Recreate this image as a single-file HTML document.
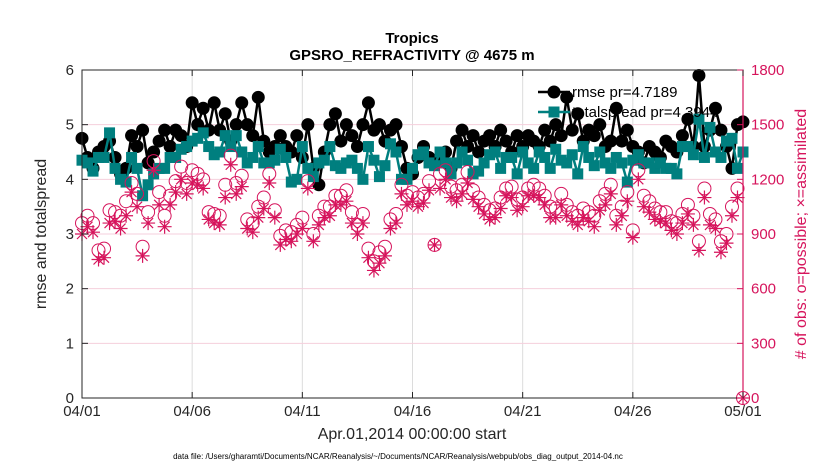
<!DOCTYPE html>
<html><head><meta charset="utf-8"><style>
body{margin:0;background:#fff;width:830px;height:470px;overflow:hidden;font-family:"Liberation Sans",Arial,sans-serif}
svg text{font-family:"Liberation Sans",Arial,sans-serif}
</style></head><body>
<svg id="chart" width="830" height="470" xmlns="http://www.w3.org/2000/svg"></svg>
<script>
const rmse=[4.75,4.4,4.2,4.5, 4.6,4.7,4.4,4.1, 4.2,4.8,4.6,4.9, 4.3,4.5,4.7,4.9, 4.6,4.9,4.8,4.6, 5.4,5.0,5.3,4.9, 5.4,4.9,5.2,4.7, 5.0,5.4,5.0,4.8, 5.5,4.7,4.5,4.6, 4.8,4.6,4.5,4.8, 4.4,5.0,4.2,3.9, 4.5,5.0,5.2,4.7, 5.0,4.8,4.6,5.0, 5.4,4.9,5.0,4.7, 4.9,5.0,4.6,4.2, 4.1,4.4,4.6,4.4, 4.3,4.4,4.5,4.2, 4.7,4.9,4.6,4.8, 4.5,4.7,4.8,4.6, 4.9,4.7,4.5,4.8, 4.6,4.8,4.7,4.6, 4.9,4.7,5.0,4.8, 5.5,4.9,5.2,4.7, 4.9,4.8,5.0,4.6, 4.7,5.3,4.7,4.9, 4.6,4.5,4.3,4.6, 4.5,4.4,4.7,4.6, 4.5,4.8,5.1,4.6, 5.9,4.6,4.9,5.3, 4.9,4.6,4.2,5.0, 5.05];
const spread=[4.35,4.3,4.15,4.4, 4.4,4.85,4.2,4.0, 3.95,4.4,4.2,3.7, 3.9,4.1,4.2,4.2, 4.4,4.4,4.55,4.6, 4.7,4.75,4.85,4.6, 4.45,4.5,4.8,4.6, 4.8,4.5,4.3,4.4, 4.6,4.3,4.3,4.35, 4.55,4.4,3.95,4.0, 4.6,4.2,4.05,4.3, 4.35,4.6,4.25,4.2, 4.3,4.35,4.2,4.0, 4.6,4.35,4.05,4.25, 4.65,4.5,4.0,4.0, 4.2,4.45,4.5,4.3, 4.25,4.5,4.3,4.1, 4.3,4.5,4.35,4.1, 4.15,4.3,4.45,4.5, 4.2,4.4,4.4,4.1, 4.5,4.3,4.2,4.5, 4.4,4.2,4.55,4.35, 4.3,4.45,4.1,4.6, 4.4,4.25,4.5,4.3, 4.2,4.4,4.3,3.95, 4.35,4.45,4.3,4.3, 4.2,4.3,4.2,4.2, 4.1,4.6,4.6,4.45, 5.1,4.4,4.95,4.5, 4.4,4.7,4.75,4.2, 4.5];
const possible=[960,1000,960,810, 820,1030,1020,1000, 1080,1180,1120,830, 1020,1300,1130,1000, 1110,1190,1270,1180, 1250,1230,1200,1020, 1010,1000,1170,1330, 1180,1220,980,960, 1050,1100,1230,1030, 890,920,910,950, 990,1190,900,1000, 1050,1050,1110,1110, 1140,1020,950,1010, 820,750,800,830, 980,1010,1170,1110, 1130,1100,1120,1190, 840,1230,1250,1160, 1140,1170,1240,1140, 1100,1060,1030,1040, 1100,1150,1160,1090, 1100,1150,1170,1150, 1110,1050,1040,1120, 1060,1020,1000,1040, 1020,1000,1080,1120, 1170,1000,1050,1130, 920,1250,1110,1080, 1040,1020,1020,970, 960,1010,1060,1000, 860,1150,1010,980, 860,900,1050,1150, 0];
const assimilated=[900,940,910,760, 770,960,970,930, 1000,1130,1050,780, 960,1250,1060,940, 1060,1130,1200,1120, 1180,1170,1150,980, 960,950,1100,1280, 1120,1160,930,910, 990,1040,1180,990, 840,870,860,900, 930,1150,860,950, 990,1000,1060,1060, 1080,960,900,960, 770,700,740,780, 930,960,1120,1060, 1080,1050,1070,1140, 840,1150,1200,1100, 1080,1120,1180,1090, 1050,1010,980,990, 1040,1110,1100,1030, 1050,1110,1110,1100, 1060,990,990,1060, 1000,970,950,990, 970,940,1030,1060, 1120,950,1000,1080, 880,1200,1050,1020, 980,970,960,920, 900,960,1010,950, 810,1100,950,930, 800,850,1000,1100, 0];
const xTickLabels=["04/01","04/06","04/11","04/16","04/21","04/26","05/01"];
const yLeftTicks=[0,1,2,3,4,5,6];
const yRightTicks=[0,300,600,900,1200,1500,1800];

const NS="http://www.w3.org/2000/svg";
const svg=document.getElementById('chart');
const X0=82,X1=743,YT=70,YB=398;
const xs=i=>X0+(X1-X0)*i/120;
const yl=v=>YB-(YB-YT)*v/6;
const yr=v=>YB-(YB-YT)*v/1800;
const PINK="#d6145c";
function el(t,a,p){const e=document.createElementNS(NS,t);for(const k in a)e.setAttribute(k,a[k]);(p||svg).appendChild(e);return e;}
function tx(s,a){const e=el('text',a);e.textContent=s;return e;}

const grid=el('g',{});


xTickLabels.forEach((l,k)=>{const x=xs(k*20);el('line',{x1:x,x2:x,y1:YT,y2:YB,stroke:'#dcdcdc','stroke-width':1},grid);});
yRightTicks.forEach(v=>{el('line',{x1:X0,x2:X1,y1:yr(v),y2:yr(v),stroke:'#f5cfdc','stroke-width':1},grid);});

const gr=el('g',{});


el('polyline',{points:rmse.map((v,i)=>xs(i)+','+yl(v)).join(' '),fill:'none',stroke:'#000','stroke-width':2.5},gr);
rmse.forEach((v,i)=>{const c=el('circle',{cx:xs(i),cy:yl(v),r:6.5,fill:'#000'},gr);

});
const gs=el('g',{});


el('polyline',{points:spread.map((v,i)=>xs(i)+','+yl(v)).join(' '),fill:'none',stroke:'#007f7f','stroke-width':2.5},gs);
spread.forEach((v,i)=>{const r=el('rect',{x:xs(i)-5.5,y:yl(v)-5.5,width:11,height:11,fill:'#007f7f'},gs);

});
const gp=el('g',{});


possible.forEach((v,i)=>{const c=el('circle',{cx:xs(i),cy:yr(v),r:6.5,fill:'none',stroke:PINK,'stroke-width':1},gp);

});
const ga=el('g',{});


assimilated.forEach((v,i)=>{const x=xs(i),y=yr(v),s=7;
const p=el('path',{d:`M${x-s},${y}H${x+s}M${x},${y-s}V${y+s}M${x-5},${y-5}L${x+5},${y+5}M${x-5},${y+5}L${x+5},${y-5}`,stroke:PINK,'stroke-width':1.2,fill:'none'},ga);

});

el('rect',{x:X0,y:YT,width:X1-X0,height:YB-YT,fill:'none',stroke:'#262626','stroke-width':1});
el('line',{x1:X1,x2:X1,y1:YT,y2:YB,stroke:PINK,'stroke-width':1.2});
xTickLabels.forEach((l,k)=>{const x=xs(k*20);
el('line',{x1:x,x2:x,y1:YB,y2:YB-6,stroke:'#262626'});el('line',{x1:x,x2:x,y1:YT,y2:YT+6,stroke:'#262626'});
const t=tx(l,{x:x,y:YB+18,'text-anchor':'middle','font-size':15,fill:'#262626'});

});
yLeftTicks.forEach(v=>{const y=yl(v);el('line',{x1:X0,x2:X0+6,y1:y,y2:y,stroke:'#262626'});
const t=tx(String(v),{x:X0-8,y:y+5,'text-anchor':'end','font-size':15,fill:'#262626'});

});
yRightTicks.forEach(v=>{const y=yr(v);el('line',{x1:X1-6,x2:X1,y1:y,y2:y,stroke:PINK});
const t=tx(String(v),{x:X1+8,y:y+5,'font-size':15,fill:PINK});

});

const lg=el('g',{});


el('line',{x1:538,x2:570,y1:92,y2:92,stroke:'#000','stroke-width':2.5},lg);
el('circle',{cx:554,cy:92,r:6.5,fill:'#000'},lg);
tx('rmse pr=4.7189',{x:572,y:97,'font-size':15,fill:'#000'});
el('line',{x1:538,x2:570,y1:112,y2:112,stroke:'#007f7f','stroke-width':2.5},lg);
el('rect',{x:548.5,y:106.5,width:11,height:11,fill:'#007f7f'},lg);
tx('totalspread pr=4.3944',{x:572,y:117,'font-size':15,fill:'#000'});

tx('Tropics',{x:412,y:43,'text-anchor':'middle','font-size':15,'font-weight':'bold',fill:'#000'});
tx('GPSRO_REFRACTIVITY @ 4675 m',{x:412,y:60,'text-anchor':'middle','font-size':15,'font-weight':'bold',fill:'#000'});
tx('Apr.01,2014 00:00:00 start',{x:412,y:439,'text-anchor':'middle','font-size':16,fill:'#262626'});
tx('rmse and totalspread',{x:0,y:0,'text-anchor':'middle','font-size':16,fill:'#262626',transform:'translate(46,234) rotate(-90)'});
tx('# of obs: o=possible; \u00d7=assimilated',{x:0,y:0,'text-anchor':'middle','font-size':16,fill:PINK,transform:'translate(806,234) rotate(-90)'});
tx('data file: /Users/gharamti/Documents/NCAR/Reanalysis/~/Documents/NCAR/Reanalysis/webpub/obs_diag_output_2014-04.nc',{x:398,y:459,'text-anchor':'middle','font-size':8,fill:'#000'});
</script>
</body></html>
